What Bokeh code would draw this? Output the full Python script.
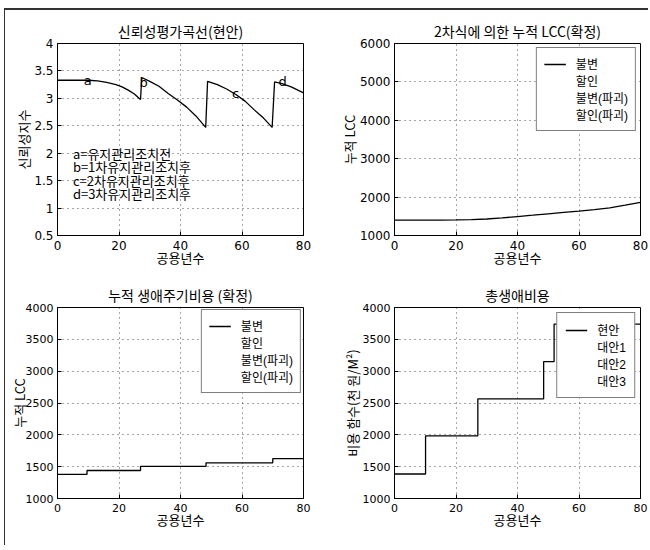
from bokeh.plotting import figure
from bokeh.layouts import row, column
from bokeh.models import Range1d, FixedTicker, Legend, LegendItem, ColumnDataSource
from bokeh.core.properties import value
from bokeh.embed import file_html
from bokeh.resources import INLINE

KR = "Noto Sans CJK KR"
NUM = "DejaVu Sans"
LEG = "Liberation Sans, Noto Sans CJK KR"

# ---------------- data ----------------
x_ticks = [0, 20, 40, 60, 80]

# subplot 1: reliability index curve
rel_years = [0, 5, 10, 13, 16, 19, 21, 23, 25, 27.0,
             27.4, 30, 33, 36, 39, 42, 45, 48.2,
             48.8, 52, 55, 58, 61, 64, 67, 69.8,
             70.6, 73, 76, 80]
rel_index = [3.33, 3.33, 3.33, 3.32, 3.29, 3.25, 3.21, 3.15, 3.08, 2.98,
             3.38, 3.31, 3.22, 3.09, 2.97, 2.84, 2.68, 2.47,
             3.31, 3.25, 3.17, 3.07, 2.95, 2.79, 2.64, 2.47,
             3.30, 3.27, 3.21, 3.10]
rel_yticks = [0.5, 1, 1.5, 2, 2.5, 3, 3.5, 4]
mark_letters = ["a", "b", "c", "d"]
mark_x = [9.8, 28.0, 57.9, 73.2]
mark_y = [3.32, 3.28, 3.09, 3.30]
note_lines = ["a=유지관리조치전", "b=1차유지관리조치후", "c=2차유지관리조치후", "d=3차유지관리조치후"]
note_x = [5.0, 5.0, 5.0, 5.0]
note_y = [2.0, 1.76, 1.51, 1.27]

# subplot 2: quadratic cumulative LCC
lcc_years = [0, 5, 10, 15, 20, 25, 30, 35, 40, 45, 50, 55, 60, 65, 70, 75, 80]
lcc_values = [1400, 1400, 1400, 1402, 1405, 1415, 1430, 1458, 1492, 1528, 1565,
              1600, 1635, 1675, 1720, 1790, 1865]
lcc_yticks = [1000, 2000, 3000, 4000, 5000, 6000]
lcc_legend = ["불변", "할인", "불변(파괴)", "할인(파괴)"]

# subplot 3: cumulative life cycle cost (steps)
cum_years = [0, 9.6, 27.0, 48.3, 70.0, 80]
cum_values = [1380, 1440, 1505, 1560, 1625, 1625]
cost_yticks = [1000, 1500, 2000, 2500, 3000, 3500, 4000]

# subplot 4: total life cost (steps)
tot_years = [0, 10.1, 27.1, 48.5, 51.9, 80]
tot_values = [1385, 1985, 2565, 3150, 3740, 3740]
tot_legend = ["현안", "대안1", "대안2", "대안3"]


def make_fig(w, h, bl, br, bt, bb, title, xlabel, ylabel, yr, yticks,
             ylab_standoff=-2, tick_size="12px"):
    p = figure(width=w, height=h, output_backend="svg", toolbar_location=None,
               x_range=Range1d(0, 80), y_range=Range1d(*yr),
               min_border_left=bl, min_border_right=br,
               min_border_top=bt, min_border_bottom=bb,
               title=title, background_fill_color="white",
               border_fill_color="white")
    p.outline_line_color = "black"
    p.outline_line_width = 1
    p.title.text_font = KR
    p.title.text_font_size = "14px"
    p.title.text_font_style = "normal"
    p.title.align = "center"
    p.title.text_color = "black"
    p.title.standoff = 6
    for ax, lab, ticks in ((p.xaxis[0], xlabel, x_ticks), (p.yaxis[0], ylabel, yticks)):
        ax.ticker = FixedTicker(ticks=ticks)
        ax.axis_label = lab
        ax.axis_label_text_font = KR
        ax.axis_label_text_font_size = "13px"
        ax.axis_label_text_font_style = "normal"
        ax.axis_label_text_color = "black"
        ax.major_label_text_font = NUM
        ax.major_label_text_font_size = tick_size
        ax.major_label_text_color = "black"
        ax.major_tick_in = 4
        ax.major_tick_out = 0
        ax.minor_tick_line_color = None
        ax.axis_line_color = "black"
        ax.major_tick_line_color = "black"
    p.xaxis[0].major_label_standoff = 5
    p.xaxis[0].axis_label_standoff = -5
    p.yaxis[0].major_label_standoff = 4
    p.yaxis[0].axis_label_standoff = ylab_standoff
    for g in (p.xgrid[0], p.ygrid[0]):
        g.grid_line_color = "black"
        g.grid_line_dash = "1 4"
        g.grid_line_alpha = 0.7
    return p


def add_legend(p, main_renderer, labels, margin, padding):
    items = [LegendItem(label=labels[0], renderers=[main_renderer])]
    for lab in labels[1:]:
        r = p.line(x=[], y=[], line_alpha=0)
        items.append(LegendItem(label=lab, renderers=[r]))
    lg = Legend(items=items, location="top_right")
    lg.margin = margin
    lg.padding = padding
    lg.spacing = 0
    lg.glyph_width = 22
    lg.glyph_height = 12
    lg.label_height = 12
    lg.label_standoff = 10
    lg.label_text_font = LEG
    lg.label_text_font_size = "12px"
    lg.label_text_line_height = 1.0
    lg.label_text_color = "black"
    lg.border_line_color = "black"
    lg.border_line_width = 1
    lg.background_fill_alpha = 1
    p.add_layout(lg)


# ---- subplot 1
p1 = make_fig(320, 265, 52, 22, 33, 40, "신뢰성평가곡선(현안)", "공용년수", "신뢰성지수",
              (0.5, 4), rel_yticks)
p1.line(rel_years, rel_index, line_color="black", line_width=1.3)
p1.text(x="x", y="y", text="t",
        source=ColumnDataSource(dict(x=mark_x, y=mark_y, t=mark_letters)),
        text_font=value(NUM), text_font_size="13px", text_align="center",
        text_baseline="middle", text_color="black")
p1.text(x="x", y="y", text="t",
        source=ColumnDataSource(dict(x=note_x, y=note_y, t=note_lines)),
        text_font=value(KR), text_font_size="13px", text_align="left",
        text_baseline="middle", text_color="black")

# ---- subplot 2
p2 = make_fig(323, 265, 69, 8, 33, 40, "2차식에 의한 누적 LCC(확정)", "공용년수", "누적 LCC",
              (1000, 6000), lcc_yticks)
r2 = p2.line(lcc_years, lcc_values, line_color="black", line_width=1.3)
add_legend(p2, r2, lcc_legend, 4, 7)

# ---- subplot 3
p3 = make_fig(320, 270, 52, 22, 32, 47, "누적 생애주기비용 (확정)", "공용년수", "누적 LCC",
              (1000, 4000), cost_yticks, ylab_standoff=-6, tick_size="11px")
r3 = p3.step(cum_years, cum_values, mode="after", line_color="black", line_width=1.3)
add_legend(p3, r3, lcc_legend, 2, 7)

# ---- subplot 4
p4 = make_fig(323, 270, 69, 8, 32, 47, "총생애비용", "공용년수", "비용 함수(천 원/M²)",
              (1000, 4000), cost_yticks, tick_size="11px")
r4 = p4.step(tot_years, tot_values, mode="after", line_color="black", line_width=1.3)
add_legend(p4, r4, tot_legend, 5, 8)

layout = column(row(p1, p2), row(p3, p4), margin=(8, 0, 0, 4),
                styles={"border-top": "2px solid #333", "border-left": "1px solid #333"})

open("out.html", "w").write(file_html(layout, INLINE))
